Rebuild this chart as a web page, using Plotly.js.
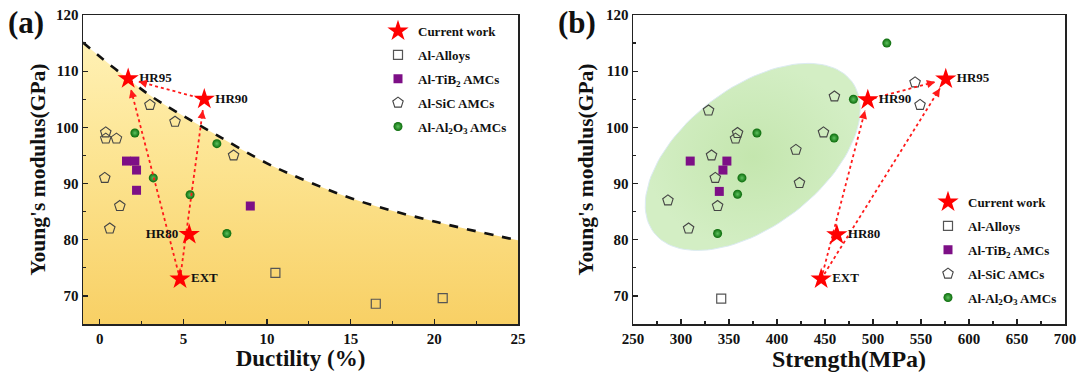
<!DOCTYPE html>
<html><head><meta charset="utf-8">
<script src="https://cdn.plot.ly/plotly-3.0.1.min.js"></script>
<style>html,body{margin:0;padding:0;background:#fff}#chart{width:1080px;height:378px}</style>
</head><body><div id="chart"></div>
<script>
// ---------- data ----------
const starLabels = ['EXT', 'HR80', 'HR90', 'HR95'];
const aStarDuct = [4.8, 5.35, 6.25, 1.7];
const aStarMod  = [73, 80.95, 105, 108.65];
const bStarStr  = [446, 462.3, 494.6, 575.8];
const bStarMod  = [73, 80.9, 104.9, 108.6];
const arrowPairs = [[0, 3], [0, 2], [2, 3]];

const aAlloyDuct = [10.5, 16.5, 20.5];
const aAlloyMod  = [74.1, 68.6, 69.6];
const aTiB2Duct  = [1.6, 2.1, 2.2, 2.2, 9.0];
const aTiB2Mod   = [94, 94, 92.4, 88.8, 86];
const aSiCDuct   = [0.36, 0.36, 1.0, 3.0, 4.5, 8.0, 0.3, 1.2, 0.6];
const aSiCMod    = [99.1, 98, 98, 104, 101, 95, 91, 86, 82];
const aAl2O3Duct = [2.1, 3.2, 5.4, 7.0, 7.6];
const aAl2O3Mod  = [99, 91, 88, 97.1, 81.1];
const boundDuct  = [-1, 0, 1.7, 3, 4.5, 7, 10, 12, 15.6, 20.2, 25];
const boundMod   = [115.1, 112.6, 108.6, 105.7, 102.9, 98.6, 93.6, 90.9, 86.8, 83.1, 79.9];

const bAlloyStr = [341.9];
const bAlloyMod = [69.5];
const bTiB2Str  = [309.6, 347.8, 343.7, 339.9];
const bTiB2Mod  = [94, 94, 92.4, 88.6];
const bSiCStr   = [328.7, 358.9, 356.8, 331.8, 335.7, 419.7, 423.4, 286.4, 338.1, 307.9, 459.8, 448.4, 543.8, 549];
const bSiCMod   = [103, 99, 98, 95, 91, 96, 90.1, 87, 86, 82, 105.5, 99.1, 108, 104];
const bAl2O3Str = [379.1, 363.5, 358.9, 338.1, 514.4, 479.6, 459.5];
const bAl2O3Mod = [99, 91, 88.1, 81.1, 115, 105, 98.1];

const seriesNames = ['Current work', 'Al-Alloys', 'Al-TiB<sub>2</sub> AMCs', 'Al-SiC AMCs', 'Al-Al<sub>2</sub>O<sub>3</sub> AMCs'];

// ---------- geometry / style ----------
const W = 1080, H = 378;
const F = 'Liberation Serif, Times New Roman, serif';
const domA = [83 / W, 518 / W], domB = [633 / W, 1065 / W], domY = [1 - 324 / H, 1 - 15 / H];
const rngA = [-1, 25], rngB = [250, 700], rngY = [65, 120];
const scale = (dom, rng, tot) => tot * (dom[1] - dom[0]) / (rng[1] - rng[0]);
const kxA = scale(domA, rngA, W), kxB = scale(domB, rngB, W), ky = scale(domY, rngY, H);

// ellipse decoration (centre in data units, axes in px)
const ell = {cx: 374.7, cy: 94.74, a: 124.5, b: 69.3, ang: 37.4};

const traces = [];
// panel a: baseline + filled boundary
traces.push({x: [rngA[0], rngA[1]], y: [rngY[0], rngY[0]], xaxis: 'x', yaxis: 'y', mode: 'lines',
  line: {width: 0, color: 'rgba(0,0,0,0)'}, showlegend: false, hoverinfo: 'skip'});
traces.push({x: boundDuct, y: boundMod, xaxis: 'x', yaxis: 'y', mode: 'lines',
  line: {color: '#111', width: 2.6, dash: 'dash', shape: 'spline'},
  fill: 'tonexty', fillgradient: {type: 'vertical', colorscale: [[0, '#F8D065'], [0.55, '#FCE38F'], [1, '#FFF1B4']]},
  showlegend: false, hoverinfo: 'skip'});

// panel b: ellipse
const ex = [], ey = [];
const phi = ell.ang * Math.PI / 180;
for (let i = 0; i <= 120; i++) {
  const t = 2 * Math.PI * i / 120;
  const dx = ell.a * Math.cos(t) * Math.cos(phi) - ell.b * Math.sin(t) * Math.sin(phi);
  const dy = ell.a * Math.cos(t) * Math.sin(phi) + ell.b * Math.sin(t) * Math.cos(phi);
  ex.push(ell.cx + dx / kxB); ey.push(ell.cy + dy / ky);
}
traces.push({x: ex, y: ey, xaxis: 'x2', yaxis: 'y2', mode: 'lines', fill: 'toself',
  line: {color: '#DCEBF2', width: 1},
  fillgradient: {type: 'radial', colorscale: [[0, '#C4E6AE'], [1, '#D3EEC4']]},
  showlegend: false, hoverinfo: 'skip'});

function groupTraces(xa, ya, leg, d) {
  const out = [];
  out.push({x: d.alloyX, y: d.alloyY, name: seriesNames[1], mode: 'markers', xaxis: xa, yaxis: ya, legend: leg,
    legendgroup: leg + 'g1', legendrank: 2,
    marker: {symbol: 'square-open', size: 9, color: '#555', line: {width: 1.2}}});
  out.push({x: d.tibX, y: d.tibY, name: seriesNames[2], mode: 'markers', xaxis: xa, yaxis: ya, legend: leg,
    legendgroup: leg + 'g2', legendrank: 3,
    marker: {symbol: 'square', size: 9, color: '#7D0F86'}});
  out.push({x: d.sicX, y: d.sicY, name: seriesNames[3], mode: 'markers', xaxis: xa, yaxis: ya, legend: leg,
    legendgroup: leg + 'g3', legendrank: 4,
    marker: {symbol: 'pentagon-open', size: 11, color: '#444', line: {width: 1.1}}});
  out.push({x: d.aloX, y: d.aloY, name: seriesNames[4], mode: 'markers', xaxis: xa, yaxis: ya, legend: leg,
    legendgroup: leg + 'g4', legendrank: 5,
    marker: {symbol: 'circle', size: 9, color: '#0A6A0A', line: {width: 0}, gradient: {type: 'radial', color: '#5EC25E'}}});
  return out;
}
const annotations = [];
function arrows(xs, ys, kx, xa, ya) {
  arrowPairs.forEach(([i, j]) => {
    const dxp = (xs[j] - xs[i]) * kx, dyp = (ys[j] - ys[i]) * ky;
    const len = Math.hypot(dxp, dyp), ux = dxp / len, uy = dyp / len;
    const gap = 11;
    const hx = xs[j] - ux * gap / kx, hy = ys[j] - uy * gap / ky;
    traces.push({x: [xs[i], hx], y: [ys[i], hy], xaxis: xa, yaxis: ya, mode: 'lines',
      line: {color: '#FF1A1A', width: 1.8, dash: 'dot'}, showlegend: false, hoverinfo: 'skip'});
    annotations.push({x: hx, y: hy, xref: xa, yref: ya, ax: -ux * 7, ay: uy * 7, text: '',
      showarrow: true, arrowhead: 2, arrowsize: 1.1, arrowwidth: 1.5, arrowcolor: '#FF1A1A', standoff: 0});
  });
}

traces.push(...groupTraces('x', 'y', 'legend', {alloyX: aAlloyDuct, alloyY: aAlloyMod, tibX: aTiB2Duct, tibY: aTiB2Mod,
  sicX: aSiCDuct, sicY: aSiCMod, aloX: aAl2O3Duct, aloY: aAl2O3Mod}));
traces.push(...groupTraces('x2', 'y2', 'legend2', {alloyX: bAlloyStr, alloyY: bAlloyMod, tibX: bTiB2Str, tibY: bTiB2Mod,
  sicX: bSiCStr, sicY: bSiCMod, aloX: bAl2O3Str, aloY: bAl2O3Mod}));
arrows(aStarDuct, aStarMod, kxA, 'x', 'y');
arrows(bStarStr, bStarMod, kxB, 'x2', 'y2');

const labFont = {family: F, size: 13, weight: 'bold', color: '#111'};
traces.push({x: aStarDuct, y: aStarMod, text: starLabels, name: seriesNames[0], mode: 'markers+text', xaxis: 'x', yaxis: 'y',
  legend: 'legend', legendgroup: 'legendg0', legendrank: 1,
  textposition: ['middle right', 'middle left', 'middle right', 'middle right'], textfont: labFont,
  marker: {symbol: 'star', size: 16, color: '#FF0000', line: {width: 0}}});
traces.push({x: bStarStr, y: bStarMod, text: starLabels, name: seriesNames[0], mode: 'markers+text', xaxis: 'x2', yaxis: 'y2',
  legend: 'legend2', legendgroup: 'legend2g0', legendrank: 1, textposition: 'middle right', textfont: labFont,
  marker: {symbol: 'star', size: 16, color: '#FF0000', line: {width: 0}}});

const tickF = {family: F, size: 15, weight: 'bold', color: '#111'};
const tf = s => ({family: F, size: s, weight: 'bold', color: '#111'});
function ax(extra) {
  return Object.assign({showline: true, linecolor: '#222', linewidth: 1.5, mirror: true, ticks: 'inside', ticklen: 5,
    tickwidth: 1.3, tickcolor: '#222', showgrid: false, zeroline: false, tickfont: tickF, automargin: false}, extra);
}
const legBase = {bgcolor: 'rgba(0,0,0,0)', font: {family: F, size: 13, weight: 'bold', color: '#111'},
  xanchor: 'left', yanchor: 'top', traceorder: 'grouped', tracegroupgap: 4, itemclick: false};

annotations.push({text: '(a)', x: 26 / W, y: 1 - 23 / H, xref: 'paper', yref: 'paper', showarrow: false,
  font: {family: F, size: 31, weight: 'bold', color: '#111'}, xanchor: 'center', yanchor: 'middle'});
annotations.push({text: '(b)', x: 577 / W, y: 1 - 23 / H, xref: 'paper', yref: 'paper', showarrow: false,
  font: {family: F, size: 31, weight: 'bold', color: '#111'}, xanchor: 'center', yanchor: 'middle'});

const layout = {
  width: W, height: H, margin: {l: 0, r: 0, t: 0, b: 0}, paper_bgcolor: '#fff', plot_bgcolor: '#fff',
  showlegend: true,
  xaxis: ax({domain: domA, range: rngA, dtick: 5, tick0: 0, anchor: 'y',
    minor: {dtick: 2.5, ticks: 'inside', ticklen: 3, tickwidth: 1.2, tickcolor: '#222'},
    title: {text: 'Ductility (%)', font: tf(23), standoff: 3}}),
  yaxis: ax({domain: domY, range: rngY, dtick: 10, tick0: 0, anchor: 'x',
    minor: {dtick: 5, ticks: 'inside', ticklen: 3, tickwidth: 1.2, tickcolor: '#222'},
    title: {text: "Young's modulus(GPa)", font: tf(21.5), standoff: 4}}),
  xaxis2: ax({domain: domB, range: rngB, dtick: 50, tick0: 0, anchor: 'y2',
    minor: {dtick: 25, ticks: 'inside', ticklen: 3, tickwidth: 1.2, tickcolor: '#222'},
    title: {text: 'Strength(MPa)', font: tf(24), standoff: 3}}),
  yaxis2: ax({domain: domY, range: rngY, dtick: 10, tick0: 0, anchor: 'x2',
    minor: {dtick: 5, ticks: 'inside', ticklen: 3, tickwidth: 1.2, tickcolor: '#222'},
    title: {text: "Young's modulus(GPa)", font: tf(21.5), standoff: 6}}),
  legend: Object.assign({}, legBase, {x: 378 / W, y: 1 - 16 / H}),
  legend2: Object.assign({}, legBase, {x: 928 / W, y: 1 - 187 / H}),
  annotations: annotations
};
Plotly.newPlot('chart', traces, layout, {displayModeBar: false, staticPlot: true});
</script>
</body></html>
